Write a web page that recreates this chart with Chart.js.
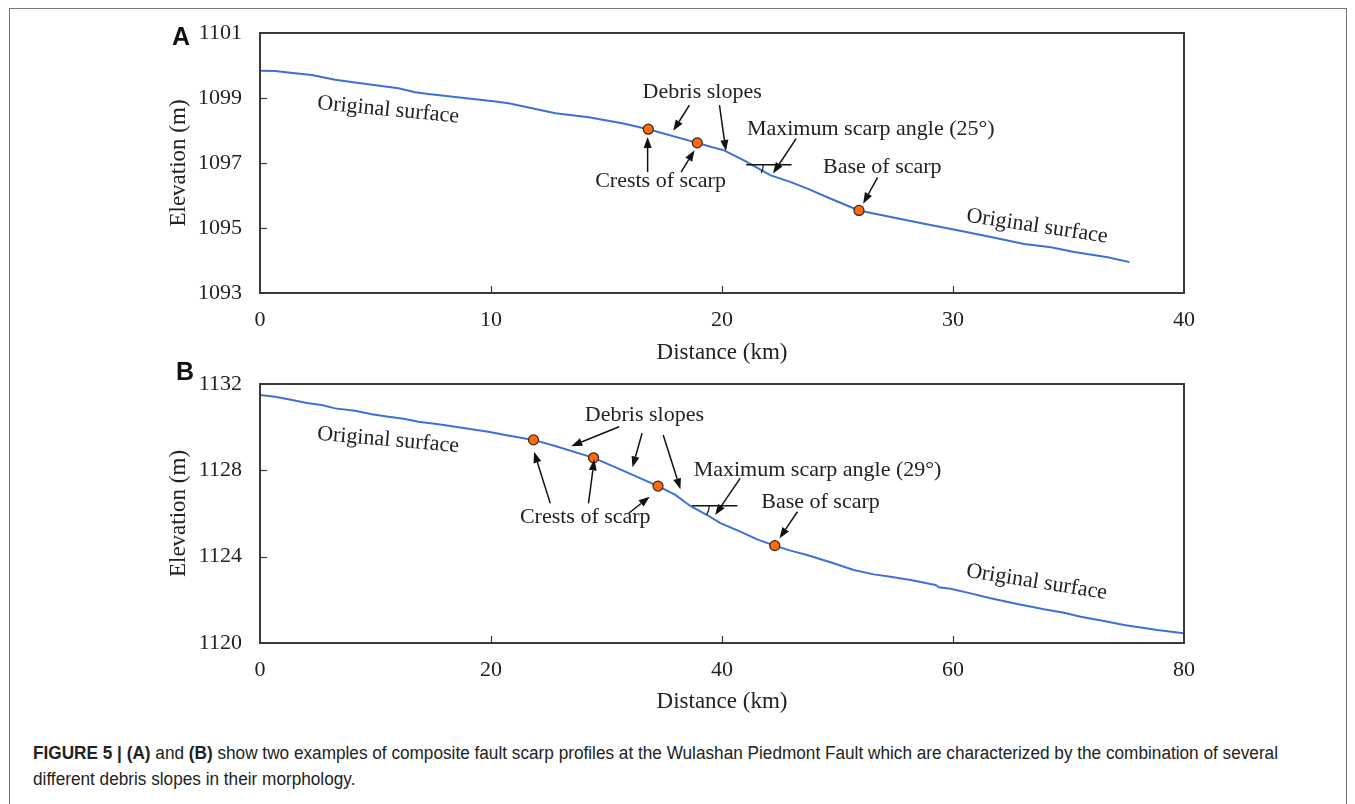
<!DOCTYPE html>
<html><head><meta charset="utf-8">
<script src="https://cdn.jsdelivr.net/npm/chart.js@4.4.1/dist/chart.umd.min.js"></script>
<style>
html,body{margin:0;padding:0;background:#fff;width:1355px;height:804px;overflow:hidden;}
#frame{position:absolute;left:9px;top:8px;width:1338px;height:830px;border:1px solid #777;box-sizing:border-box;}
canvas{position:absolute;left:0;}
#cA{top:0;} #cB{top:340px;}
.panel{position:absolute;font-family:"Liberation Sans",Arial,sans-serif;font-weight:bold;font-size:25px;line-height:25px;color:#111;}
.cap{position:absolute;left:33px;font-family:"Liberation Sans",Arial,sans-serif;font-size:18px;line-height:20px;color:#222;white-space:nowrap;transform-origin:0 0;display:inline-block;}
</style></head>
<body>
<div id="frame"></div>
<canvas id="cA" width="1355" height="370"></canvas>
<canvas id="cB" width="1355" height="380"></canvas>
<div class="panel" style="left:172px;top:24px;">A</div>
<div class="panel" style="left:176px;top:359px;">B</div>
<div class="cap" id="cap1" style="top:743px;"><b>FIGURE 5 | (A)</b> and <b>(B)</b> show two examples of composite fault scarp profiles at the Wulashan Piedmont Fault which are characterized by the combination of several</div>
<div class="cap" id="cap2" style="top:769px;">different debris slopes in their morphology.</div>
<script>
// ---------- Data: panel A ----------
const distA = [0, 0.65, 1.52, 2.24, 3.25, 4.12, 5.99, 6.72, 7.29, 8.74, 10.19, 10.76, 12.79, 14.23, 15.68, 16.81,
  18.93, 19.51, 20.09, 20.95, 22.11, 22.98, 23.7, 24.71, 25.93, 27.31, 28.75, 30.2, 31.64, 33.08, 34.24, 35.25, 36.7, 37.64];
const elevA = [1099.84, 1099.83, 1099.76, 1099.71, 1099.56, 1099.48, 1099.30, 1099.18, 1099.12, 1099.01, 1098.89, 1098.84, 1098.53, 1098.41, 1098.22, 1098.04,
  1097.62, 1097.50, 1097.39, 1097.08, 1096.62, 1096.41, 1096.21, 1095.90, 1095.54, 1095.34, 1095.13, 1094.93, 1094.72, 1094.51, 1094.41, 1094.26, 1094.10, 1093.95];
const markDistA = [16.81, 18.93, 25.93];
const markElevA = [1098.04, 1097.62, 1095.54];
const xTicksA = [0, 10, 20, 30, 40];
const yTicksA = [1093, 1095, 1097, 1099, 1101];

// ---------- Data: panel B ----------
const distB = [0, 1.3, 2.45, 4.19, 5.35, 6.5, 8.23, 9.68, 11.12, 12.56, 13.72, 15.45, 16.9, 19.78, 21.23, 23.68, 25.56, 28.88, 31.34, 34.46, 35.96,
  37.26, 38.71, 39.86, 41.59, 43.04, 44.57, 45.93, 47.37, 49.39, 51.41, 53.15, 54.59, 56.33, 58.06, 58.49, 58.78, 59.79, 61.53, 63.26, 65.57, 67.88, 69.61, 71.06, 73.08, 74.81, 77.7, 79.96];
const elevB = [1131.49, 1131.41, 1131.29, 1131.11, 1131.03, 1130.87, 1130.76, 1130.60, 1130.48, 1130.38, 1130.25, 1130.13, 1130.02, 1129.79, 1129.64, 1129.41, 1129.13, 1128.58, 1128.01, 1127.27, 1126.86,
  1126.35, 1125.93, 1125.55, 1125.16, 1124.80, 1124.51, 1124.28, 1124.08, 1123.74, 1123.38, 1123.18, 1123.07, 1122.92, 1122.73, 1122.69, 1122.58, 1122.51, 1122.30, 1122.07, 1121.81, 1121.56, 1121.40, 1121.22, 1121.02, 1120.83, 1120.60, 1120.45];
const markDistB = [23.68, 28.88, 34.46, 44.57];
const markElevB = [1129.41, 1128.58, 1127.27, 1124.51];
const xTicksB = [0, 20, 40, 60, 80];
const yTicksB = [1120, 1124, 1128, 1132];

// ---------- Annotations (data coordinates) ----------
const labelsA = [
  {t:'Original surface', x:5.55, y:1098.63, rot:5.5},
  {t:'Debris slopes', x:19.14, y:1099.17, rot:0},
  {t:'Maximum scarp angle (25°)', x:26.44, y:1098.04, rot:0},
  {t:'Base of scarp', x:26.94, y:1096.88, rot:0},
  {t:'Crests of scarp', x:17.34, y:1096.44, rot:0},
  {t:'Original surface', x:33.64, y:1095.05, rot:8.5}
];
const arrowsA = [
  [18.59, 1098.78, 17.89, 1097.99],
  [19.89, 1098.78, 20.17, 1097.37],
  [23.21, 1097.75, 22.21, 1096.68],
  [26.73, 1096.55, 26.11, 1095.75],
  [16.78, 1096.72, 16.78, 1097.80],
  [18.23, 1096.72, 18.81, 1097.39]
];
const angleA = {x1:21.05, x2:23.01, y:1096.95, arc:29};

const labelsB = [
  {t:'Original surface', x:11.09, y:1129.40, rot:5},
  {t:'Debris slopes', x:33.28, y:1130.54, rot:0},
  {t:'Crests of scarp', x:28.16, y:1125.84, rot:0},
  {t:'Maximum scarp angle (29°)', x:48.27, y:1128.01, rot:0},
  {t:'Base of scarp', x:48.53, y:1126.53, rot:0},
  {t:'Original surface', x:67.24, y:1122.82, rot:9}
];
const arrowsB = [
  [31.09, 1130.02, 26.95, 1129.12],
  [33.08, 1129.72, 32.25, 1128.14],
  [34.91, 1129.64, 36.40, 1127.12],
  [25.13, 1126.47, 23.73, 1128.86],
  [28.44, 1126.47, 28.94, 1128.51],
  [31.92, 1126.01, 33.74, 1126.78],
  [41.57, 1127.63, 39.41, 1125.93],
  [46.53, 1126.08, 44.98, 1124.85]
];
const angleB = {x1:37.42, x2:41.33, y:1126.36, arc:32};

// ---------- Styling ----------
const SERIF = '"Liberation Serif","Times New Roman",serif';
const LINE = '#3d70d6';
const TXT = '#222';

function drawArrow(ctx, x1, y1, x2, y2){
  const ang = Math.atan2(y2-y1, x2-x1), L = 11, W = 4;
  const bx = x2 - L*Math.cos(ang), by = y2 - L*Math.sin(ang);
  ctx.beginPath(); ctx.moveTo(x1,y1); ctx.lineTo(bx,by); ctx.stroke();
  ctx.beginPath(); ctx.moveTo(x2,y2);
  ctx.lineTo(bx + W*Math.sin(ang), by - W*Math.cos(ang));
  ctx.lineTo(bx - W*Math.sin(ang), by + W*Math.cos(ang));
  ctx.closePath(); ctx.fill();
}

function framePlugin(labels, arrows, angle){
  return {
    id:'frameAnno',
    afterDraw(chart){
      const {ctx, chartArea:a} = chart;
      const xs = chart.scales.x, ys = chart.scales.y;
      ctx.save();
      ctx.strokeStyle = '#3a3a3a'; ctx.lineWidth = 2;
      ctx.strokeRect(a.left, a.top, a.right-a.left, a.bottom-a.top);
      ctx.lineWidth = 1.2;
      xs.ticks.forEach(t => {
        if (t.value === xs.min || t.value === xs.max) return;
        const p = Math.round(xs.getPixelForValue(t.value)) + 0.5;
        ctx.beginPath(); ctx.moveTo(p, a.bottom); ctx.lineTo(p, a.bottom-7); ctx.stroke();
      });
      ys.ticks.forEach(t => {
        if (t.value === ys.min || t.value === ys.max) return;
        const p = Math.round(ys.getPixelForValue(t.value)) + 0.5;
        ctx.beginPath(); ctx.moveTo(a.left, p); ctx.lineTo(a.left+7, p); ctx.stroke();
      });
      ctx.fillStyle = TXT;
      ctx.font = '22px ' + SERIF;
      ctx.textAlign = 'center'; ctx.textBaseline = 'middle';
      labels.forEach(l => {
        ctx.save();
        ctx.translate(xs.getPixelForValue(l.x), ys.getPixelForValue(l.y));
        ctx.rotate(l.rot*Math.PI/180);
        ctx.fillText(l.t, 0, 0);
        ctx.restore();
      });
      ctx.strokeStyle = '#111'; ctx.fillStyle = '#111'; ctx.lineWidth = 1.5;
      arrows.forEach(r => drawArrow(ctx, xs.getPixelForValue(r[0]), ys.getPixelForValue(r[1]), xs.getPixelForValue(r[2]), ys.getPixelForValue(r[3])));
      const ax1 = xs.getPixelForValue(angle.x1), ax2 = xs.getPixelForValue(angle.x2), ay = ys.getPixelForValue(angle.y);
      ctx.lineWidth = 1.5;
      ctx.beginPath(); ctx.moveTo(ax1, ay); ctx.lineTo(ax2, ay); ctx.stroke();
      ctx.lineWidth = 1.2;
      ctx.beginPath(); ctx.arc(ax1, ay, 17, 0, angle.arc*Math.PI/180); ctx.stroke();
      ctx.restore();
    }
  };
}

function makeChart(id, o){
  const tickFont = {family:SERIF, size:22};
  const titleFont = {family:SERIF, size:23};
  return new Chart(document.getElementById(id), {
    type:'scatter',
    data:{datasets:[
      {data:o.dist.map((d,i)=>({x:d, y:o.elev[i]})), showLine:true, borderColor:LINE, borderWidth:2, pointRadius:0, tension:0, order:2},
      {data:o.mx.map((d,i)=>({x:d, y:o.my[i]})), showLine:false, pointRadius:5, pointBackgroundColor:'#ff6a10', pointBorderColor:'#3a2410', pointBorderWidth:1.2, order:1}
    ]},
    options:{
      responsive:false, animation:false, devicePixelRatio:1,
      events:[],
      layout:{padding:{left:0, top:o.padTop, right:171, bottom:0}},
      plugins:{legend:{display:false}, tooltip:{enabled:false}},
      scales:{
        x:{type:'linear', min:o.xTicks[0], max:o.xTicks[o.xTicks.length-1],
           afterBuildTicks(s){ s.ticks = o.xTicks.map(v=>({value:v})); },
           ticks:{font:tickFont, color:TXT, padding:14, maxRotation:0, callback:v=>String(v)},
           grid:{display:false, drawTicks:false}, border:{display:false},
           title:{display:true, text:'Distance (km)', font:titleFont, color:TXT, padding:{top:0, bottom:o.xTitlePad}},
           afterFit(s){ s.height = 77; }},
        y:{type:'linear', min:o.yTicks[0], max:o.yTicks[o.yTicks.length-1],
           afterBuildTicks(s){ s.ticks = o.yTicks.map(v=>({value:v})); },
           ticks:{font:tickFont, color:TXT, padding:18, callback:v=>String(v)},
           grid:{display:false, drawTicks:false}, border:{display:false},
           title:{display:true, text:'Elevation (m)', font:titleFont, color:TXT, padding:{top:165, bottom:0}},
           afterFit(s){ s.width = 260; }}
      }
    },
    plugins:[framePlugin(o.labels, o.arrows, o.angle)]
  });
}

makeChart('cA', {dist:distA, elev:elevA, mx:markDistA, my:markElevA, xTicks:xTicksA, yTicks:yTicksA, padTop:33, xTitlePad:3, labels:labelsA, arrows:arrowsA, angle:angleA});
makeChart('cB', {dist:distB, elev:elevB, mx:markDistB, my:markElevB, xTicks:xTicksB, yTicks:yTicksB, padTop:44, xTitlePad:4, labels:labelsB, arrows:arrowsB, angle:angleB});

const c1 = document.getElementById('cap1'), c2 = document.getElementById('cap2');
const sc = 1245 / c1.getBoundingClientRect().width;
c1.style.transform = 'scaleX(' + sc + ')';
c2.style.transform = 'scaleX(' + sc + ')';
</script>
</body></html>
